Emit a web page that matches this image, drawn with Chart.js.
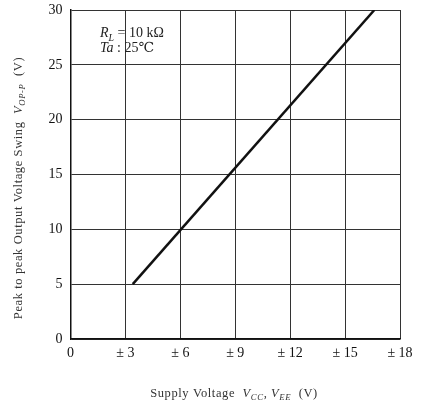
<!DOCTYPE html>
<html>
<head>
<meta charset="utf-8">
<script src="https://cdn.jsdelivr.net/npm/chart.js@4/dist/chart.umd.min.js"></script>
<style>
  html, body { margin: 0; padding: 0; background: #fff; }
  #wrap { width: 423px; height: 405px; }
</style>
</head>
<body>
<div id="wrap"><canvas id="myChart" width="423" height="405"></canvas></div>
<script>
"use strict";

// values
let supplyVoltage = [3.4, 16.6];
let outputSwing = [5, 30];
let xTickLabels = ["0", "± 3", "± 6", "± 9", "± 12", "± 15", "± 18"];
let yTickLabels = ["0", "5", "10", "15", "20", "25", "30"];

let serif = "'Liberation Serif', 'DejaVu Serif', serif";

let points = [];
for (let i = 0; i < supplyVoltage.length; i++) {
  points.push({ x: supplyVoltage[i], y: outputSwing[i] });
}

// draw a run of text pieces, each piece {t, italic, sub}
function drawPieces(ctx, pieces, x, y, size) {
  let cx = x;
  for (let p of pieces) {
    let s = p.sub ? size * 0.7 : size;
    ctx.font = (p.italic ? 'italic ' : '') + s + 'px ' + serif;
    ctx.fillText(p.t, cx, p.sub ? y + size * 0.25 : y);
    cx += ctx.measureText(p.t).width;
  }
  return cx - x;
}

function piecesWidth(ctx, pieces, size) {
  let w = 0;
  for (let p of pieces) {
    let s = p.sub ? size * 0.7 : size;
    ctx.font = (p.italic ? 'italic ' : '') + s + 'px ' + serif;
    w += ctx.measureText(p.t).width;
  }
  return w;
}

let textPlugin = {
  id: 'textPlugin',
  afterDraw(chart) {
    let ctx = chart.ctx;
    ctx.save();
    ctx.fillStyle = '#222';
    ctx.textBaseline = 'alphabetic';
    ctx.textAlign = 'left';

    drawPieces(ctx, [
      { t: 'R', italic: true }, { t: 'L', italic: true, sub: true }, { t: ' = 10 k\u03A9' }
    ], 100, 37, 14);
    drawPieces(ctx, [
      { t: 'Ta', italic: true }, { t: ' : 25\u2103' }
    ], 100, 52, 14);

    // axis titles, spaced out like the scan
    ctx.fillStyle = '#333';
    ctx.letterSpacing = '0.6px';
    let xt = [
      { t: 'Supply Voltage  ' }, { t: 'V', italic: true }, { t: 'CC', italic: true, sub: true },
      { t: ', ' }, { t: 'V', italic: true }, { t: 'EE', italic: true, sub: true }, { t: '  (V)' }
    ];
    let w = piecesWidth(ctx, xt, 12.5);
    drawPieces(ctx, xt, 234 - w / 2, 397, 12.5);

    let yt = [
      { t: 'Peak to peak Output Voltage Swing  ' }, { t: 'V', italic: true },
      { t: 'OP-P', italic: true, sub: true }, { t: '  (V)' }
    ];
    ctx.translate(22, 188);
    ctx.rotate(-Math.PI / 2);
    w = piecesWidth(ctx, yt, 12.5);
    drawPieces(ctx, yt, -w / 2, 0, 12.5);
    ctx.restore();
  }
};

let chartObject = {
  type: 'scatter',
  data: {
    datasets: [{
      data: points,
      showLine: true,
      borderColor: '#111',
      borderWidth: 2.5,
      pointRadius: 0,
      fill: false
    }]
  },
  options: {
    responsive: false,
    animation: false,
    layout: { padding: { left: 0, top: 10, right: 23, bottom: 0 } },
    plugins: {
      legend: { display: false },
      tooltip: { enabled: false }
    },
    scales: {
      x: {
        type: 'linear',
        min: 0,
        max: 18,
        afterFit(axis) { axis.height = 66; axis.paddingLeft = 0; axis.paddingRight = 0; },
        grid: { color: '#333', lineWidth: 1, drawTicks: false },
        border: { color: '#111', width: 1.5 },
        ticks: {
          stepSize: 3,
          padding: 6,
          color: '#111',
          font: { family: serif, size: 14 },
          maxRotation: 0,
          callback: (v, i) => xTickLabels[i]
        }
      },
      y: {
        min: 0,
        max: 30,
        afterFit(axis) { axis.width = 70.5; axis.paddingTop = 0; axis.paddingBottom = 0; },
        grid: { color: '#333', lineWidth: 1, drawTicks: false },
        border: { color: '#111', width: 1.5 },
        ticks: {
          stepSize: 5,
          padding: 8,
          color: '#111',
          font: { family: serif, size: 14 },
          callback: (v, i) => yTickLabels[i]
        }
      }
    }
  },
  plugins: [textPlugin]
};

let ctx = document.getElementById('myChart').getContext('2d');
let myChart = new Chart(ctx, chartObject);
</script>
</body>
</html>
